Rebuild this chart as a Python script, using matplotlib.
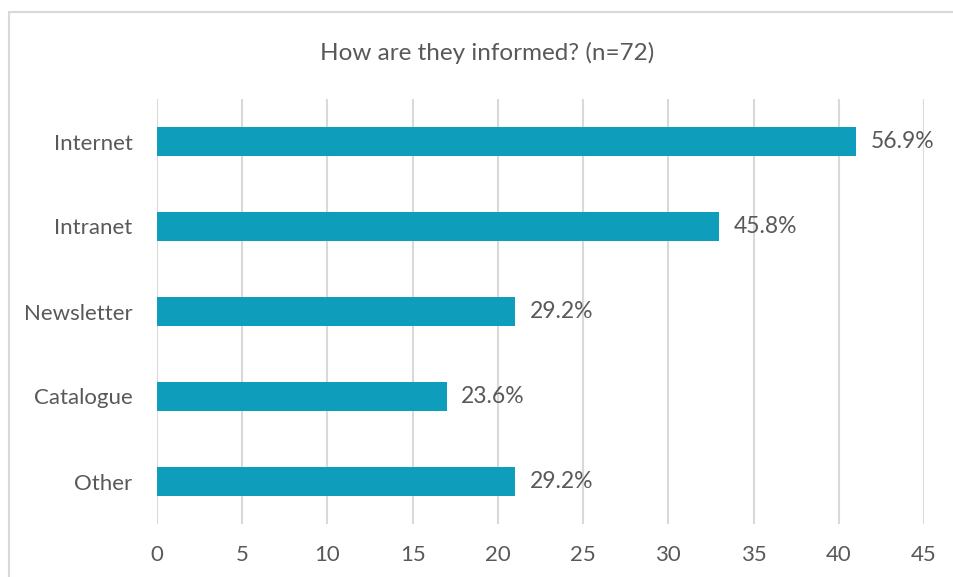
import matplotlib.pyplot as plt
from matplotlib.patches import Rectangle

categories = ["Internet", "Intranet", "Newsletter", "Catalogue", "Other"]
counts = [41, 33, 21, 17, 21]
percent_labels = ["56.9%", "45.8%", "29.2%", "23.6%", "29.2%"]
xticks = [0, 5, 10, 15, 20, 25, 30, 35, 40, 45]

plt.rcParams['font.family'] = ['Lato', 'DejaVu Sans']
grey = '#595959'
bar_color = '#0E9DBA'

fig = plt.figure(figsize=(9.54, 5.77), dpi=100)
ax = fig.add_axes([157/954, 1 - 524/577, (924 - 157)/954, (524 - 99)/577])

ypos = range(len(categories))
ax.barh(ypos, counts, height=0.35, color=bar_color, zorder=3)
for y, c, lab in zip(ypos, counts, percent_labels):
    ax.text(c + 0.85, y, lab, va='center', ha='left', fontsize=16.5, color=grey)

ax.set_xlim(0, 45)
ax.set_ylim(4.5, -0.5)
ax.set_yticks(list(ypos))
ax.set_yticklabels(categories)
ax.set_xticks(xticks)
ax.tick_params(axis='both', length=0, labelsize=16, labelcolor=grey)
ax.tick_params(axis='x', pad=15)
ax.tick_params(axis='y', pad=17.5)
ax.grid(axis='x', color='#D9D9D9', linewidth=1.5, zorder=0)
for s in ax.spines.values():
    s.set_visible(False)

fig.text(487/954, 1 - 53/577, "How are they informed? (n=72)", ha='center', va='center',
         fontsize=17.5, color=grey)

# outer chart border
fig.patches.append(Rectangle((9/954, -0.1), 1.2, 1 - 12/577 + 0.1, transform=fig.transFigure,
                             fill=False, edgecolor='#D9D9D9', linewidth=1.5))

fig.savefig('out.png', dpi=100)
